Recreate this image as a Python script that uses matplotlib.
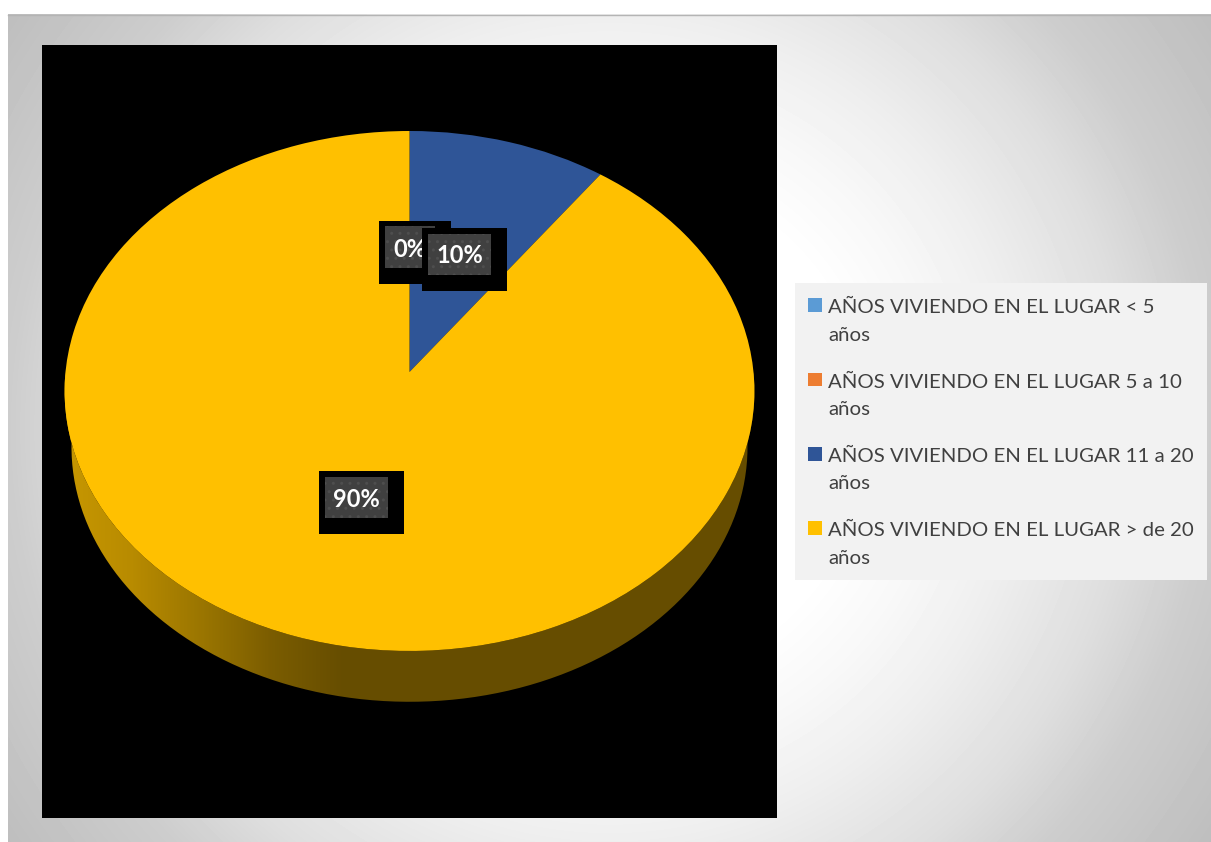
import numpy as np
import matplotlib
matplotlib.use("Agg")
import matplotlib.pyplot as plt
from matplotlib.legend_handler import HandlerPatch
from matplotlib.patches import PathPatch, Rectangle, Wedge
from matplotlib.path import Path
from matplotlib.transforms import Transform
from matplotlib.colors import LinearSegmentedColormap

# ---- data ----
categories = ["AÑOS VIVIENDO EN EL LUGAR < 5\naños",
              "AÑOS VIVIENDO EN EL LUGAR 5 a 10\naños",
              "AÑOS VIVIENDO EN EL LUGAR 11 a 20\naños",
              "AÑOS VIVIENDO EN EL LUGAR > de 20\naños"]
values = [0, 0, 10, 90]
colors = ["#5B9BD5", "#ED7D31", "#2F5597", "#FFC000"]

W, H = 1211, 842
plt.rcParams["font.family"] = ["Lato", "DejaVu Sans"]
plt.rcParams["hatch.linewidth"] = 1.0
fig = plt.figure(figsize=(W / 100, H / 100), dpi=100, facecolor="white")


class Perspective(Transform):
    """Tilted-disc projection of the unit pie onto chart pixels."""
    input_dims = output_dims = 2
    is_separable = False
    has_inverted = lambda self: False

    def __init__(self, scale=1.0, shift=0.0):
        super().__init__()
        self.scale, self.shift = scale, shift

    def transform_non_affine(self, pts):
        pts = np.asarray(pts, float)
        k = 0.073
        d = 1 + k * pts[:, 1]
        return np.column_stack((409.5 + self.scale * 344 * pts[:, 0] / d,
                                372 + self.shift - self.scale * 258.6 * pts[:, 1] / d))


# ---- background panel ----
bg = fig.add_axes([0, 0, 1, 1], zorder=0)
bg.set_xlim(0, W); bg.set_ylim(H, 0); bg.axis("off")
xx, yy = np.meshgrid(np.arange(W) + .5, np.arange(H) + .5)
r = np.hypot(xx - 610, yy - 428)
shade = np.interp(r, [0, 250, 330, 414, 520, 600, 730], [255, 255, 248, 238, 222, 205, 190]) / 255
panel = bg.imshow(shade, cmap="gray", vmin=0, vmax=1, extent=(0, W, H, 0), aspect="auto")
panel.set_clip_path(Rectangle((8, 14), W - 8, H - 14, transform=bg.transData))
bg.plot([8, W], [14.5, 14.5], color="#b4b4b4", lw=1)
bg.set_xlim(0, W); bg.set_ylim(H, 0)
bg.add_patch(Rectangle((795, 283), 412, 297, fc="#F2F2F2", ec="none"))

# ---- chart area ----
ax = fig.add_axes([42 / W, 1 - 818 / H, (777 - 42) / W, (818 - 45) / H], zorder=1)
wedges, texts, autotexts = ax.pie(values, colors=colors, startangle=90, counterclock=False,
                                  autopct="%.0f%%", wedgeprops=dict(linewidth=0))
ax.set_aspect("auto")
ax.set_xlim(42, 777); ax.set_ylim(818, 45)
ax.set_frame_on(True); ax.set_facecolor("black")
for s in ax.spines.values():
    s.set_visible(False)
top = Perspective()
for w in wedges:
    w.set_transform(top + ax.transData)
    w.set_zorder(3)

# rim of the disc with its side shading
t = np.linspace(np.pi, 2 * np.pi, 200)
unit = np.column_stack((np.cos(t), np.sin(t)))
rim = np.vstack((top.transform(unit), Perspective(0.98, 56.4).transform(unit[::-1])))
rim_patch = PathPatch(Path(np.vstack((rim, rim[:1]))), fc="none", ec="none", transform=ax.transData)
ax.add_patch(rim_patch)
side = LinearSegmentedColormap.from_list("side", ["#C89800", "#B88B00", "#9A7500", "#7A5C00", "#664D00", "#664D00"])
grad = ax.imshow(np.interp(np.linspace(60, 760, 700), [60, 345], [0, 0.8])[None, :], cmap=side, vmin=0, vmax=1,
                 extent=(60, 760, 720, 370), aspect="auto", zorder=2)
grad.set_clip_path(rim_patch)
ax.set_xlim(42, 777); ax.set_ylim(818, 45)
ax.set_xticks([]); ax.set_yticks([])

# ---- data labels ----
outer_boxes = [None, (379, 221, 72, 63), (422, 228, 85, 63), (319, 471, 85, 63)]
inner_boxes = [None, (385, 226, 50, 42), (428, 234, 63, 41), (325, 477, 63, 41)]
text_pos = [None, (410, 250), (460, 256), (356, 499.5)]
for i, txt in enumerate(autotexts):
    if outer_boxes[i] is None:
        txt.remove()
        continue
    x, y, bw, bh = outer_boxes[i]
    ax.add_patch(Rectangle((x, y), bw, bh, fc="black", ec="none", zorder=4 + i))
    x, y, bw, bh = inner_boxes[i]
    ax.add_patch(Rectangle((x, y), bw, bh, fc="#404040", ec="#4E4E4E", lw=0, hatch="..", zorder=4 + i))
    txt.set(position=text_pos[i], color="white", fontweight="bold", fontsize=17,
            ha="center", va="center", zorder=4.5 + i)


# ---- legend ----
def square(legend, orig_handle, xdescent, ydescent, width, height, fontsize):
    return Rectangle((-xdescent, -ydescent + 13.4), 10, 10)


leg = fig.legend(wedges, categories, loc="upper left", bbox_to_anchor=(808 / W, 1 - 299.3 / H),
                 frameon=False, fontsize=14.65, labelcolor="#404040", borderaxespad=0, borderpad=0,
                 handlelength=1, handleheight=1, handletextpad=0, labelspacing=1.47,
                 handler_map={Wedge: HandlerPatch(patch_func=square)})
for t_ in leg.get_texts():
    t_.set_linespacing(1.74)

fig.savefig("out.png", dpi=100)
